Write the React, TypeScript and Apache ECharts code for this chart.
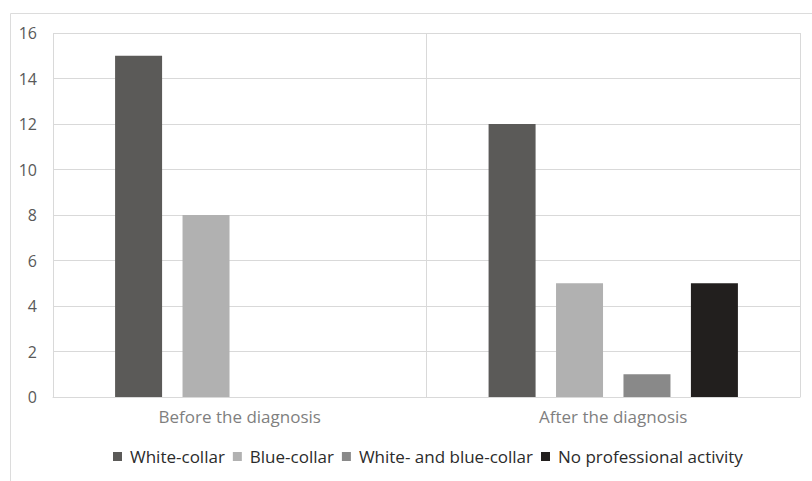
import React, { useEffect, useRef } from "react";
import * as echarts from "echarts";

// Employment status counts before and after the diagnosis
const categories = ["Before the diagnosis", "After the diagnosis"];
const seriesNames = [
  "White-collar",
  "Blue-collar",
  "White- and blue-collar",
  "No professional activity",
];
const whiteCollar = [15, 12];
const blueCollar = [8, 5];
const whiteAndBlueCollar = [0, 1];
const noProfessionalActivity = [0, 5];
const seriesColors = ["#5b5a58", "#b1b1b1", "#898989", "#221f1e"];
const yTicks = { min: 0, max: 16, interval: 2 };

const FONT = "'Open Sans', 'Noto Sans', sans-serif";

export default function App() {
  const ref = useRef<HTMLDivElement>(null);

  useEffect(() => {
    if (!ref.current) return;
    const chart = echarts.init(ref.current, null, { renderer: "svg" });
    const values = [whiteCollar, blueCollar, whiteAndBlueCollar, noProfessionalActivity];

    chart.setOption({
      animation: false,
      backgroundColor: "#ffffff",
      textStyle: { fontFamily: FONT },
      graphic: [
        {
          type: "rect",
          shape: { x: 10.5, y: 13.5, width: 900, height: 600 },
          style: { fill: "none", stroke: "#dcdcdc", lineWidth: 1 },
          silent: true,
          z: -1,
        },
      ],
      grid: { left: 53, right: 12, top: 33, bottom: 84 },
      legend: {
        data: seriesNames,
        top: 443,
        left: 108,
        icon: "rect",
        itemWidth: 9,
        itemHeight: 9,
        itemGap: 8,
        textStyle: { fontFamily: FONT, fontSize: 17, color: "#2b2b2b", padding: [0, 0, 0, 3] },
      },
      xAxis: {
        type: "category",
        data: categories,
        axisLine: { show: true, lineStyle: { color: "#d9d9d9" } },
        axisTick: { show: false },
        splitLine: { show: true, lineStyle: { color: "#d9d9d9" } },
        axisLabel: { color: "#7f7f7f", fontSize: 17, margin: 11, fontFamily: FONT },
      },
      yAxis: {
        type: "value",
        min: yTicks.min,
        max: yTicks.max,
        interval: yTicks.interval,
        axisLine: { show: false },
        axisTick: { show: false },
        splitLine: { show: true, lineStyle: { color: "#d9d9d9" } },
        axisLabel: { color: "#595959", fontSize: 16, margin: 16, fontFamily: FONT },
      },
      series: seriesNames.map((name, i) => ({
        name,
        type: "bar",
        data: values[i],
        barWidth: 47,
        barGap: "43.5%",
        itemStyle: { color: seriesColors[i] },
      })),
    });

    return () => chart.dispose();
  }, []);

  return (
    <div
      ref={ref}
      style={{ position: "fixed", left: 0, top: 0, width: 812, height: 481 }}
    />
  );
}
